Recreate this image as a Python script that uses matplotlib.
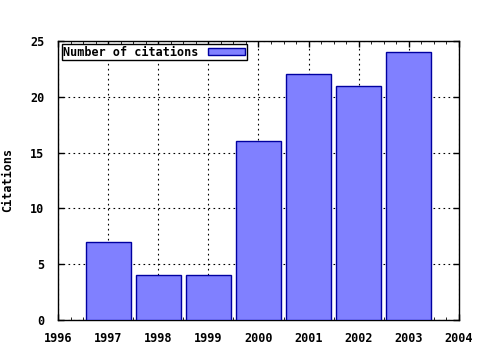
import matplotlib
matplotlib.use("Agg")
import matplotlib.pyplot as plt
from matplotlib.ticker import MultipleLocator

years = [1997, 1998, 1999, 2000, 2001, 2002, 2003]
citations = [7, 4, 4, 16, 22, 21, 24]

plt.rcParams['font.family'] = 'DejaVu Sans Mono'
plt.rcParams['font.weight'] = 'bold'
plt.rcParams['font.size'] = 8.5

fig = plt.figure(figsize=(4.8, 3.5), dpi=100)
ax = fig.add_axes([0.121, 0.086, 0.835, 0.797])

ax.bar(years, citations, width=0.9, color='#8080ff', edgecolor='#0000a0',
       linewidth=1, label='Number of citations', zorder=3)

ax.set_xlim(1996, 2004)
ax.set_ylim(0, 25)
ax.xaxis.set_major_locator(MultipleLocator(1))
ax.xaxis.set_minor_locator(MultipleLocator(0.25))
ax.yaxis.set_major_locator(MultipleLocator(5))
ax.tick_params(direction='in', top=True, right=True, length=4, width=1)
ax.tick_params(axis='x', pad=9)
ax.tick_params(axis='y', pad=10)
ax.tick_params(which='minor', direction='in', top=True, length=2)
ax.grid(True, which='major', linestyle=(0, (1.5, 3)), color='black', linewidth=0.8, zorder=0)
ax.set_ylabel('Citations', fontweight='bold')
ax.yaxis.set_label_coords(-0.11, 0.5)

for s in ax.spines.values():
    s.set_linewidth(1)

leg = ax.legend(loc='upper left', markerfirst=False, fancybox=False,
                edgecolor='black', framealpha=1, borderpad=0.1,
                handlelength=3.2, handleheight=0.5, borderaxespad=0.3)
leg.get_frame().set_linewidth(1)

fig.savefig('out.png', dpi=100)
